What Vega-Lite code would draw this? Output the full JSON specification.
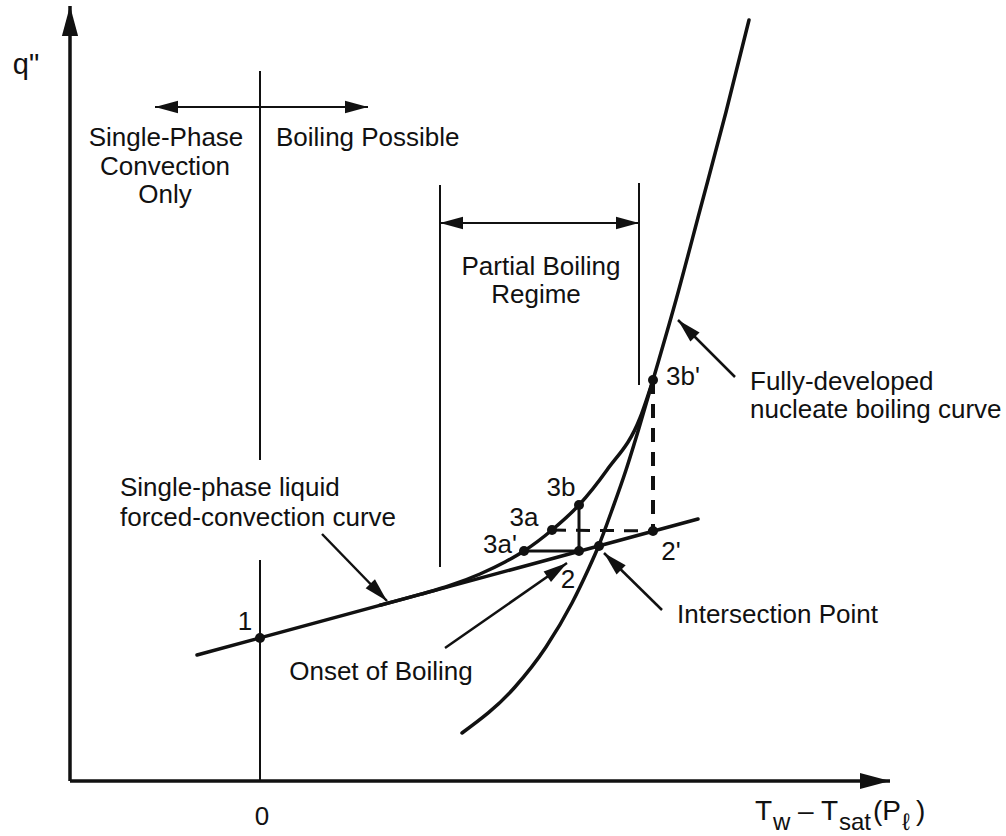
{
  "$schema": "https://vega.github.io/schema/vega-lite/v6.json",
  "width": 1006,
  "height": 836,
  "padding": 0,
  "autosize": {"type": "fit", "contains": "padding"},
  "background": "white",
  "config": {"view": {"stroke": null}},
  "datasets": {
    "curves": [
      {"curve": "single", "x": -63, "y": 126},
      {"curve": "single", "x": 438, "y": 262},
      {"curve": "partial", "x": 120, "y": 175.7},
      {"curve": "partial", "x": 160, "y": 186.6},
      {"curve": "partial", "x": 190, "y": 195.5},
      {"curve": "partial", "x": 220, "y": 207},
      {"curve": "partial", "x": 245, "y": 219},
      {"curve": "partial", "x": 264, "y": 230},
      {"curve": "partial", "x": 292, "y": 251},
      {"curve": "partial", "x": 319, "y": 276},
      {"curve": "partial", "x": 347, "y": 311},
      {"curve": "partial", "x": 380, "y": 363},
      {"curve": "partial", "x": 393, "y": 401},
      {"curve": "nucleate", "x": 202, "y": 48},
      {"curve": "nucleate", "x": 255, "y": 94},
      {"curve": "nucleate", "x": 286, "y": 134},
      {"curve": "nucleate", "x": 312, "y": 178},
      {"curve": "nucleate", "x": 328, "y": 211},
      {"curve": "nucleate", "x": 339, "y": 236},
      {"curve": "nucleate", "x": 352, "y": 271},
      {"curve": "nucleate", "x": 366, "y": 311},
      {"curve": "nucleate", "x": 379, "y": 353},
      {"curve": "nucleate", "x": 393, "y": 401},
      {"curve": "nucleate", "x": 416, "y": 481},
      {"curve": "nucleate", "x": 440, "y": 571},
      {"curve": "nucleate", "x": 466, "y": 669},
      {"curve": "nucleate", "x": 489, "y": 761}
    ],
    "guides": [
      {"x": 0, "y": 710, "x2": 0, "y2": 321},
      {"x": 0, "y": 221, "x2": 0, "y2": 0},
      {"x": 180, "y": 596, "x2": 180, "y2": 214},
      {"x": 379, "y": 598, "x2": 379, "y2": 396}
    ],
    "steps": [
      {"x": 264, "y": 230, "x2": 319, "y2": 230},
      {"x": 319, "y": 276, "x2": 319, "y2": 230}
    ],
    "dashes": [
      {"dir": "v", "x": 393, "y": 401, "x2": 393, "y2": 250},
      {"dir": "h", "x": 292, "y": 251, "x2": 393, "y2": 250}
    ],
    "arrows": [
      {"kind": "axis", "x": -190, "y": 0, "x2": -190, "y2": 775},
      {"kind": "axis", "x": -190, "y": 0, "x2": 630, "y2": 0},
      {"kind": "range", "x": 0, "y": 674, "x2": -105, "y2": 674},
      {"kind": "range", "x": 0, "y": 674, "x2": 108, "y2": 674},
      {"kind": "range", "x": 280, "y": 558, "x2": 180, "y2": 558},
      {"kind": "range", "x": 280, "y": 558, "x2": 379, "y2": 558},
      {"kind": "note", "x": 62, "y": 247, "x2": 127, "y2": 180},
      {"kind": "note", "x": 185, "y": 133, "x2": 307, "y2": 218},
      {"kind": "note", "x": 402, "y": 171, "x2": 344, "y2": 228},
      {"kind": "note", "x": 475, "y": 404, "x2": 418, "y2": 461}
    ],
    "states": [
      {"name": "1", "x": 0, "y": 143},
      {"name": "3a'", "x": 264, "y": 230},
      {"name": "2", "x": 319, "y": 230},
      {"name": "3a", "x": 292, "y": 251},
      {"name": "3b", "x": 319, "y": 276},
      {"name": "2'", "x": 393, "y": 250},
      {"name": "intersection", "x": 339, "y": 235},
      {"name": "3b'", "x": 393, "y": 401}
    ],
    "labelsCentered": [
      {"text": "Single-Phase", "x": -94, "y": 643},
      {"text": "Convection", "x": -95, "y": 614},
      {"text": "Only", "x": -95, "y": 586},
      {"text": "Partial Boiling", "x": 281, "y": 514},
      {"text": "Regime", "x": 276, "y": 486},
      {"text": "Onset of Boiling", "x": 121, "y": 109},
      {"text": "1", "x": -15, "y": 159},
      {"text": "2", "x": 308, "y": 201},
      {"text": "2'", "x": 411, "y": 229},
      {"text": "3a'", "x": 240, "y": 236},
      {"text": "3a", "x": 264, "y": 263},
      {"text": "3b", "x": 301, "y": 293},
      {"text": "3b'", "x": 423, "y": 404},
      {"text": "0", "x": 2, "y": -36}
    ],
    "axisNames": [
      {"text": "q\"", "x": -234, "y": 716}
    ],
    "labelsLeft": [
      {"text": "Boiling Possible", "x": 16, "y": 643},
      {"text": "Fully-developed", "x": 490, "y": 399},
      {"text": "nucleate boiling curve", "x": 490, "y": 371},
      {"text": "Single-phase liquid", "x": -140, "y": 293},
      {"text": "forced-convection curve", "x": -140, "y": 263},
      {"text": "Intersection  Point", "x": 417, "y": 166}
    ],
    "axisTitleMain": [
      {"text": "T", "x": 495, "y": -39},
      {"text": "–", "x": 538, "y": -39},
      {"text": "T", "x": 561, "y": -39},
      {"text": "(P", "x": 613, "y": -39},
      {"text": ")", "x": 656, "y": -39}
    ],
    "axisTitleSub": [
      {"text": "w", "x": 513, "y": -49, "italic": "normal"},
      {"text": "sat", "x": 579, "y": -49, "italic": "normal"},
      {"text": "ℓ", "x": 642, "y": -49, "italic": "italic"}
    ]
  },
  "encoding": {
    "x": {"field": "x", "type": "quantitative", "scale": {"domain": [-260, 746], "nice": false, "zero": false}, "axis": null},
    "y": {"field": "y", "type": "quantitative", "scale": {"domain": [-55, 781], "nice": false, "zero": false}, "axis": null}
  },
  "layer": [
    {
      "data": {"name": "guides"},
      "mark": {"type": "rule", "color": "#111", "strokeWidth": 2},
      "encoding": {"x2": {"field": "x2"}, "y2": {"field": "y2"}}
    },
    {
      "data": {"name": "steps"},
      "mark": {"type": "rule", "color": "#111", "strokeWidth": 3},
      "encoding": {"x2": {"field": "x2"}, "y2": {"field": "y2"}}
    },
    {
      "data": {"name": "dashes"},
      "transform": [{"filter": "datum.dir === 'v'"}],
      "mark": {"type": "rule", "color": "#111", "strokeWidth": 4, "strokeDash": [14, 10]},
      "encoding": {"x2": {"field": "x2"}, "y2": {"field": "y2"}}
    },
    {
      "data": {"name": "dashes"},
      "transform": [{"filter": "datum.dir === 'h'"}],
      "mark": {"type": "rule", "color": "#111", "strokeWidth": 3, "strokeDash": [14, 10]},
      "encoding": {"x2": {"field": "x2"}, "y2": {"field": "y2"}}
    },
    {
      "data": {"name": "curves"},
      "mark": {"type": "line", "color": "#111", "strokeWidth": 3.5, "interpolate": "monotone", "strokeCap": "round"},
      "encoding": {"detail": {"field": "curve"}}
    },
    {
      "data": {"name": "arrows"},
      "transform": [{"filter": "datum.kind === 'axis'"}],
      "mark": {"type": "rule", "color": "#111", "strokeWidth": 3.5},
      "encoding": {"x2": {"field": "x2"}, "y2": {"field": "y2"}}
    },
    {
      "data": {"name": "arrows"},
      "transform": [{"filter": "datum.kind === 'range'"}],
      "mark": {"type": "rule", "color": "#111", "strokeWidth": 2},
      "encoding": {"x2": {"field": "x2"}, "y2": {"field": "y2"}}
    },
    {
      "data": {"name": "arrows"},
      "transform": [{"filter": "datum.kind === 'note'"}],
      "mark": {"type": "rule", "color": "#111", "strokeWidth": 2.5},
      "encoding": {"x2": {"field": "x2"}, "y2": {"field": "y2"}}
    },
    {
      "data": {"name": "arrows"},
      "transform": [
        {"filter": "datum.kind === 'axis'"},
        {"calculate": "atan2(-(datum.y2 - datum.y), datum.x2 - datum.x) * 180 / PI", "as": "heading"}
      ],
      "mark": {"type": "point", "shape": "M0,0L-1,-0.27L-1,0.27Z", "filled": true, "color": "#111", "opacity": 1, "size": 3600},
      "encoding": {
        "x": {"field": "x2", "type": "quantitative"},
        "y": {"field": "y2", "type": "quantitative"},
        "angle": {"field": "heading", "type": "quantitative", "scale": null}
      }
    },
    {
      "data": {"name": "arrows"},
      "transform": [
        {"filter": "datum.kind === 'range'"},
        {"calculate": "atan2(-(datum.y2 - datum.y), datum.x2 - datum.x) * 180 / PI", "as": "heading"}
      ],
      "mark": {"type": "point", "shape": "M0,0L-1,-0.27L-1,0.27Z", "filled": true, "color": "#111", "opacity": 1, "size": 2116},
      "encoding": {
        "x": {"field": "x2", "type": "quantitative"},
        "y": {"field": "y2", "type": "quantitative"},
        "angle": {"field": "heading", "type": "quantitative", "scale": null}
      }
    },
    {
      "data": {"name": "arrows"},
      "transform": [
        {"filter": "datum.kind === 'note'"},
        {"calculate": "atan2(-(datum.y2 - datum.y), datum.x2 - datum.x) * 180 / PI", "as": "heading"}
      ],
      "mark": {"type": "point", "shape": "M0,0L-1,-0.27L-1,0.27Z", "filled": true, "color": "#111", "opacity": 1, "size": 2304},
      "encoding": {
        "x": {"field": "x2", "type": "quantitative"},
        "y": {"field": "y2", "type": "quantitative"},
        "angle": {"field": "heading", "type": "quantitative", "scale": null}
      }
    },
    {
      "data": {"name": "states"},
      "mark": {"type": "circle", "color": "#111", "opacity": 1, "size": 100}
    },
    {
      "data": {"name": "labelsCentered"},
      "mark": {"type": "text", "font": "Liberation Sans", "fontSize": 26, "align": "center", "baseline": "middle", "color": "#111"},
      "encoding": {"text": {"field": "text"}}
    },
    {
      "data": {"name": "axisNames"},
      "mark": {"type": "text", "font": "Liberation Sans", "fontSize": 29, "align": "center", "baseline": "middle", "color": "#111"},
      "encoding": {"text": {"field": "text"}}
    },
    {
      "data": {"name": "labelsLeft"},
      "mark": {"type": "text", "font": "Liberation Sans", "fontSize": 26, "align": "left", "baseline": "middle", "color": "#111"},
      "encoding": {"text": {"field": "text"}}
    },
    {
      "data": {"name": "axisTitleMain"},
      "mark": {"type": "text", "font": "Liberation Sans", "fontSize": 28, "align": "left", "baseline": "alphabetic", "color": "#111"},
      "encoding": {"text": {"field": "text"}}
    },
    {
      "data": {"name": "axisTitleSub"},
      "mark": {"type": "text", "font": "Liberation Sans", "fontSize": 24, "align": "left", "baseline": "alphabetic", "color": "#111"},
      "encoding": {"text": {"field": "text"}, "fontStyle": {"field": "italic", "type": "nominal", "scale": null}}
    }
  ]
}
